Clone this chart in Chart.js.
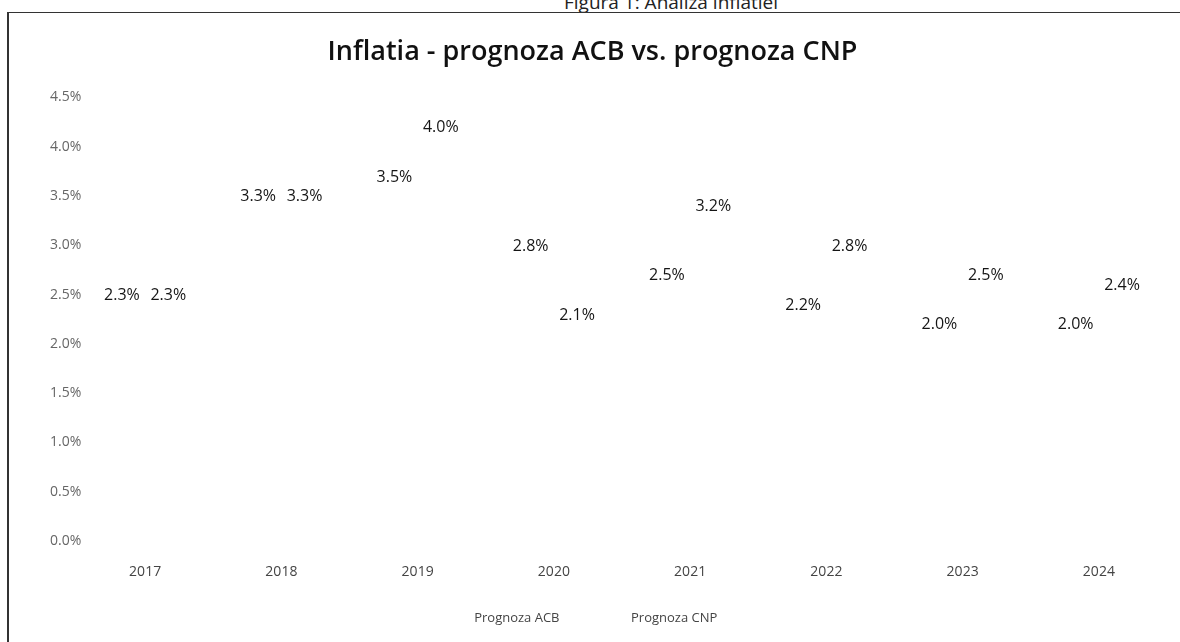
<!DOCTYPE html>
<html>
<head>
<meta charset="utf-8">
<script src="https://cdn.jsdelivr.net/npm/chart.js@4.4.1/dist/chart.umd.min.js"></script>
<style>
  html, body { margin: 0; padding: 0; background: #fff; }
  body { width: 1180px; height: 642px; position: relative; overflow: hidden; }
  #caption {
    position: absolute; top: -11px; left: 564px;
    font: 19px "Open Sans", sans-serif; color: #222; white-space: nowrap;
  }
  #frame {
    position: absolute; left: 7px; top: 12px; width: 1173px; height: 630px;
    border-left: 2px solid #333; border-top: 1px solid #333; box-sizing: border-box;
  }
  #wrap { position: absolute; left: 0; top: 0; width: 1180px; height: 642px; }
</style>
</head>
<body>
<div id="caption">Figura 1: Analiza inflatiei</div>
<div id="frame"></div>
<div id="wrap"><canvas id="inflatie"></canvas></div>
<script>
const years = ['2017', '2018', '2019', '2020', '2021', '2022', '2023', '2024'];
const prognozaACB = [2.3, 3.3, 3.5, 2.8, 2.5, 2.2, 2.0, 2.0];
const prognozaCNP = [2.3, 3.3, 4.0, 2.1, 3.2, 2.8, 2.5, 2.4];
const yTicks = [0, 0.5, 1.0, 1.5, 2.0, 2.5, 3.0, 3.5, 4.0, 4.5];

// labels above each bar, like excel data labels
const barLabels = {
  id: 'barLabels',
  afterDatasetsDraw(chart) {
    const ctx = chart.ctx;
    ctx.save();
    ctx.font = '16px "Open Sans", sans-serif';
    ctx.fillStyle = '#151515';
    ctx.textAlign = 'center';
    ctx.textBaseline = 'middle';
    chart.data.datasets.forEach((ds, i) => {
      chart.getDatasetMeta(i).data.forEach((bar, j) => {
        ctx.fillText(ds.data[j].toFixed(1) + '%', bar.x, bar.y - 19);
      });
    });
    ctx.restore();
  }
};

try {
  new Chart(document.getElementById('inflatie'), {
    type: 'bar',
    data: {
      labels: years,
      datasets: [
        {
          label: 'Prognoza ACB',
          data: prognozaACB,
          backgroundColor: '#ffffff',
          borderWidth: 0
        },
        {
          label: 'Prognoza CNP',
          data: prognozaCNP,
          backgroundColor: '#ffffff',
          borderWidth: 0
        }
      ]
    },
    options: {
      responsive: true,
      maintainAspectRatio: false,
      animation: false,
      categoryPercentage: 0.68,
      barPercentage: 0.8,
      layout: { padding: { left: 18, right: 13, top: 0, bottom: 7 } },
      plugins: {
        title: {
          display: true,
          text: 'Inflatia - prognoza ACB vs. prognoza CNP',
          color: '#111',
          font: { family: 'Open Sans', size: 27, weight: '600' },
          padding: { top: 36, bottom: 29 }
        },
        legend: {
          position: 'bottom',
          labels: {
            boxWidth: 0,
            padding: 65,
            color: '#444',
            font: { family: 'Open Sans', size: 13 }
          }
        },
        tooltip: { enabled: false }
      },
      scales: {
        x: {
          grid: { display: false },
          border: { display: false },
          afterFit(scale) { scale.height = 6; },
          ticks: {
            mirror: true,
            padding: -39,
            maxRotation: 0,
            autoSkip: false,
            color: '#444',
            font: { family: 'Open Sans', size: 14 }
          }
        },
        y: {
          min: 0,
          max: 4.5,
          grid: { display: false },
          border: { display: false },
          afterFit(scale) { scale.width = 59; },
          afterBuildTicks(scale) { scale.ticks = yTicks.map(v => ({ value: v })); },
          ticks: {
            mirror: true,
            padding: -27,
            color: '#666',
            font: { family: 'Open Sans', size: 14 },
            callback: v => Number(v).toFixed(1) + '%'
          }
        }
      }
    },
    plugins: [barLabels]
  });
} catch (error) {
  console.log(error);
}
</script>
</body>
</html>
